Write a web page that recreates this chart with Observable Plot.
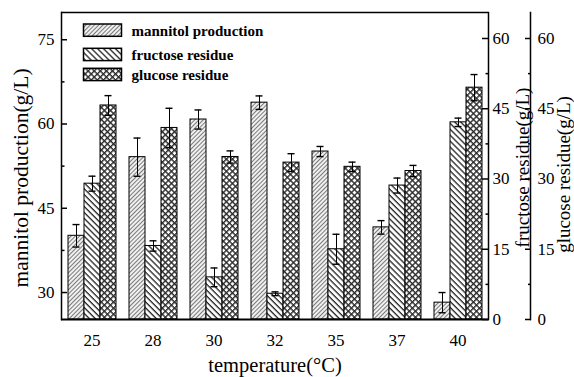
<!DOCTYPE html>
<html><head><meta charset="utf-8">
<script src="https://cdn.jsdelivr.net/npm/d3@7"></script>
<script src="https://cdn.jsdelivr.net/npm/@observablehq/plot@0.6"></script>
<style>body{margin:0;background:#fff}#chart{width:574px;height:377px}</style>
</head><body><div id="chart"></div>
<script>
const temperatures = [25, 28, 30, 32, 35, 37, 40];
const seriesNames = ["mannitol production", "fructose residue", "glucose residue"];
const mannitol = [40.1, 54.1, 60.8, 63.8, 55.1, 41.6, 28.2];
const mannitolErr = [2.0, 3.4, 1.7, 1.2, 0.9, 1.2, 1.8];
const fructose = [29.0, 15.7, 9.0, 5.5, 15.0, 28.6, 42.1];
const fructoseErr = [1.6, 1.1, 2.0, 0.4, 3.2, 1.6, 0.9];
const glucose = [45.7, 40.9, 34.7, 33.5, 32.6, 31.7, 49.5];
const glucoseErr = [2.1, 4.2, 1.3, 1.9, 1.0, 1.2, 2.8];
const leftTicks = [30, 45, 60, 75];
const leftMinor = [37.5, 52.5, 67.5];
const rightTicks = [0, 15, 30, 45, 60];
const rightMinor = [7.5, 22.5, 37.5, 52.5];
const leftDomain = [25.2, 79.85];
const rightDomain = [0, 65.55];
const xTitle = "temperature(°C)";
const leftTitle = "mannitol production(g/L)";
const fructoseTitle = "fructose residue(g/L)";
const glucoseTitle = "glucose residue(g/L)";

const k = (leftDomain[1] - leftDomain[0]) / (rightDomain[1] - rightDomain[0]);
const toLeft = v => leftDomain[0] + (v - rightDomain[0]) * k;
const fromLeft = y => rightDomain[0] + (y - leftDomain[0]) / k;

const patternOf = {
  "mannitol production": "url(#pat-m)",
  "fructose residue": "url(#pat-f)",
  "glucose residue": "url(#pat-g)"
};

const rows = temperatures.flatMap((t, i) => [
  {temp: t, series: seriesNames[0], v: mannitol[i], lo: mannitol[i] - mannitolErr[i], hi: mannitol[i] + mannitolErr[i]},
  {temp: t, series: seriesNames[1], v: toLeft(fructose[i]), lo: toLeft(fructose[i] - fructoseErr[i]), hi: toLeft(fructose[i] + fructoseErr[i])},
  {temp: t, series: seriesNames[2], v: toLeft(glucose[i]), lo: toLeft(glucose[i] - glucoseErr[i]), hi: toLeft(glucose[i] + glucoseErr[i])}
]);

const serif = "'Liberation Serif', 'Times New Roman', serif";

const plot = Plot.plot({
  width: 574, height: 377,
  marginLeft: 60, marginRight: 86, marginTop: 12, marginBottom: 58,
  style: {fontFamily: serif, fontSize: "17px", color: "#000", background: "#fff", overflow: "visible"},
  fx: {domain: temperatures, padding: 0, label: null},
  x: {domain: seriesNames, paddingInner: 0, paddingOuter: 0.33, axis: null},
  y: {domain: leftDomain},
  color: {type: "identity"},
  marks: [
    Plot.barY(rows, {fx: "temp", x: "series", y1: leftDomain[0], y2: "v", fill: d => patternOf[d.series], stroke: "#000", strokeWidth: 1}),
    Plot.ruleX(rows, {fx: "temp", x: "series", y1: "lo", y2: "hi", stroke: "#000", strokeWidth: 1}),
    Plot.tickY(rows, {fx: "temp", x: "series", y: "lo", insetLeft: 4.5, insetRight: 4.5, stroke: "#000", strokeWidth: 1.4}),
    Plot.tickY(rows, {fx: "temp", x: "series", y: "hi", insetLeft: 4.5, insetRight: 4.5, stroke: "#000", strokeWidth: 1.4}),
    Plot.ruleY([leftDomain[1]], {stroke: "#000", strokeWidth: 1.5}),
    Plot.ruleY([leftDomain[0]], {stroke: "#000", strokeWidth: 2}),
    Plot.frame({anchor: "left", facetAnchor: "left", stroke: "#000", strokeWidth: 1.5}),
    Plot.frame({anchor: "right", facetAnchor: "right", stroke: "#000", strokeWidth: 1.5}),
    Plot.frame({anchor: "right", facetAnchor: "right", dx: 42, stroke: "#000", strokeWidth: 1.5}),
    Plot.axisY(leftTicks, {anchor: "left", tickSize: -6, tickPadding: 13, strokeWidth: 1.5, label: null, fontSize: 17}),
    Plot.axisY(leftMinor, {anchor: "left", tickSize: -3.5, tickFormat: () => "", strokeWidth: 1.5, label: null}),
    Plot.axisY(rightTicks.map(toLeft), {anchor: "right", tickSize: -7, tickPadding: 11, strokeWidth: 1.5, tickFormat: y => Math.round(fromLeft(y)), label: null, fontSize: 17}),
    Plot.axisY(rightMinor.map(toLeft), {anchor: "right", tickSize: -3.5, tickFormat: () => "", strokeWidth: 1.5, label: null}),
    Plot.axisY(rightTicks.map(toLeft), {anchor: "right", dx: 42, tickSize: -6, tickPadding: 13, strokeWidth: 1.5, tickFormat: y => Math.round(fromLeft(y)), label: null, fontSize: 17}),
    Plot.axisY(rightMinor.map(toLeft), {anchor: "right", dx: 42, tickSize: -3, tickFormat: () => "", strokeWidth: 1.5, label: null}),
    Plot.axisFx({anchor: "bottom", tickSize: 0, tickPadding: 14, label: null, fontSize: 17}),
    Plot.text([leftTitle], {fx: () => 25, text: d => d, frameAnchor: "left", textAnchor: "middle", rotate: -90, dx: -40, dy: 12, fontSize: 21.5, fill: "#000"}),
    Plot.text([fructoseTitle], {fx: () => 40, text: d => d, frameAnchor: "right", textAnchor: "middle", rotate: -90, dx: 34, dy: 1.5, fontSize: 19, fill: "#000"}),
    Plot.text([glucoseTitle], {fx: () => 40, text: d => d, frameAnchor: "right", textAnchor: "middle", rotate: -90, dx: 75, dy: 8.5, fontSize: 19, fill: "#000"}),
    Plot.text([xTitle], {fx: () => 32, text: d => d, frameAnchor: "bottom", lineAnchor: "middle", dy: 46, fontSize: 20.5, fill: "#000"})
  ]
});

document.getElementById("chart").appendChild(plot);

// patterns
const svg = d3.select(plot);
const defs = svg.insert("defs", ":first-child");
const pm = defs.append("pattern").attr("id", "pat-m").attr("patternUnits", "userSpaceOnUse")
  .attr("width", 3).attr("height", 3).attr("patternTransform", "rotate(45)");
pm.append("rect").attr("width", 3).attr("height", 3).attr("fill", "#f0f0f0");
pm.append("line").attr("x1", 0.5).attr("y1", 0).attr("x2", 0.5).attr("y2", 3).attr("stroke", "#7a7a7a").attr("stroke-width", 1);
const pf = defs.append("pattern").attr("id", "pat-f").attr("patternUnits", "userSpaceOnUse")
  .attr("width", 4.2).attr("height", 4.2).attr("patternTransform", "rotate(-45)");
pf.append("rect").attr("width", 4.2).attr("height", 4.2).attr("fill", "#fff");
pf.append("line").attr("x1", 1).attr("y1", 0).attr("x2", 1).attr("y2", 4.2).attr("stroke", "#222").attr("stroke-width", 1.3);
const pg = defs.append("pattern").attr("id", "pat-g").attr("patternUnits", "userSpaceOnUse")
  .attr("width", 4.3).attr("height", 4.3).attr("patternTransform", "rotate(45)");
pg.append("rect").attr("width", 4.3).attr("height", 4.3).attr("fill", "#fff");
pg.append("line").attr("x1", 0.7).attr("y1", 0).attr("x2", 0.7).attr("y2", 4.3).attr("stroke", "#2a2a2a").attr("stroke-width", 1.4);
pg.append("line").attr("x1", 0).attr("y1", 0.7).attr("x2", 4.3).attr("y2", 0.7).attr("stroke", "#2a2a2a").attr("stroke-width", 1.4);

// legend inside the frame
const legendRows = [24, 48.3, 68.3];
const lg = svg.append("g").attr("class", "legend").attr("text-anchor", "start");
seriesNames.forEach((name, i) => {
  lg.append("rect").attr("x", 83.5).attr("y", legendRows[i]).attr("width", 38).attr("height", 12.3)
    .attr("fill", patternOf[name]).attr("stroke", "#000").attr("stroke-width", 1.5);
  lg.append("text").attr("x", 131.5).attr("y", legendRows[i] + 6.5).attr("dy", "0.35em")
    .attr("text-anchor", "start")
    .attr("font-family", serif).attr("font-size", 15).attr("font-weight", "bold").attr("fill", "#000").text(name);
});
</script>
</body></html>
